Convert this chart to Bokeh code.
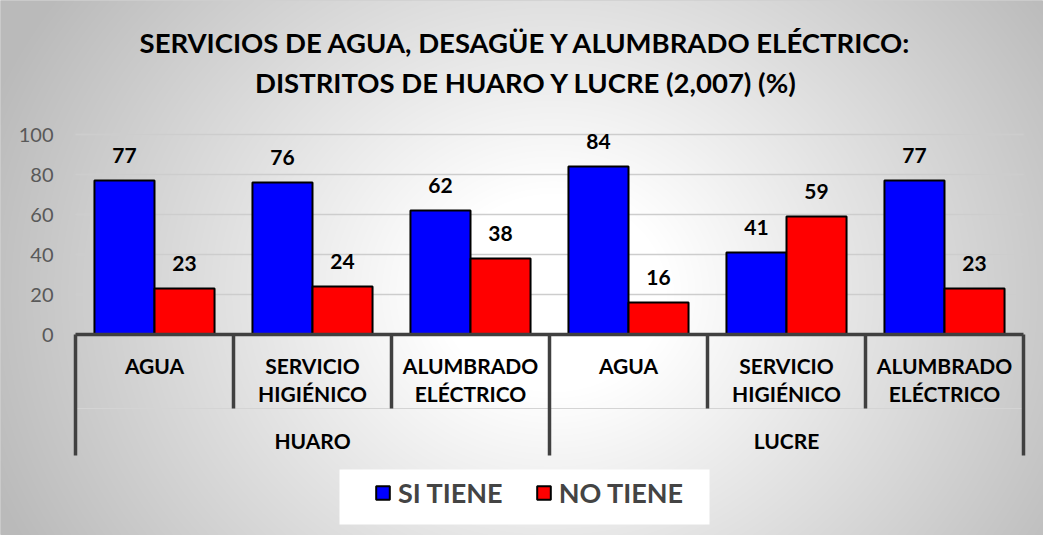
import numpy as np
from bokeh.plotting import figure
from bokeh.models import Range1d, LinearAxis, FixedTicker, Legend, LegendItem, BoxAnnotation
from bokeh.core.properties import value
from bokeh.embed import file_html
from bokeh.resources import INLINE

# ---------------- data ----------------
districts = ["HUARO", "LUCRE"]
services = ["AGUA", "SERVICIO HIGIÉNICO", "ALUMBRADO ELÉCTRICO"]
series_names = ["SI TIENE", "NO TIENE"]
si_tiene = [77, 76, 62, 84, 41, 77]
no_tiene = [23, 24, 38, 16, 59, 23]
y_ticks = [0, 20, 40, 60, 80, 100]
title_lines = ["SERVICIOS DE AGUA, DESAGÜE Y ALUMBRADO ELÉCTRICO:",
               "DISTRITOS DE HUARO Y LUCRE (2,007) (%)"]

# ---------------- layout / style ----------------
W, H = 1043, 535
cat_px = 158.0      # pixel width of one category
x0_px = 75.0        # canvas px of first category boundary
y0_px = 334.0       # canvas px (from top) of value 0
ppu = 2.0           # pixels per value unit
FONT = value("Lato")
AXIS_DARK = "#404040"
colors = ["#0000FF", "#FF0000"]

cats = [(d, s) for d in districts for s in services]
n = len(cats)
ns = len(services)
x_start = -x0_px / cat_px
x_end = (W - x0_px) / cat_px
y_end = y0_px / ppu
y_start = -(H - y0_px) / ppu


def ydata(px_from_top):
    return (y0_px - px_from_top) / ppu


def xdata(px_from_left):
    return (px_from_left - x0_px) / cat_px


p = figure(width=W, height=H, output_backend="svg", toolbar_location=None,
           x_range=Range1d(x_start, x_end), y_range=Range1d(y_start, y_end),
           x_axis_type=None, y_axis_type=None, min_border=0)
p.outline_line_color = "#d0d0d0"
p.background_fill_color = "#ffffff"
p.border_fill_color = "#ffffff"

# background radial gradient (style only)
xs_img = np.arange(W) + 8.0
ys_img = 8.0 + (H - 1 - np.arange(H))
X, Y = np.meshgrid(xs_img, ys_img)
d = np.sqrt(((X - 560.0) / 520.0) ** 2 + ((Y - 300.0) / 453.0) ** 2)
t = np.clip((d - 0.22) / 0.85, 0, 1.1)
g = (255 - 62 * t).astype(np.uint8)
img = np.empty((H, W), dtype=np.uint32)
view = img.view(dtype=np.uint8).reshape((H, W, 4))
view[..., 0] = g
view[..., 1] = g
view[..., 2] = g
view[..., 3] = 255
p.image_rgba(image=[img], x=x_start, y=y_start, dw=x_end - x_start, dh=y_end - y_start, level="image")

# gridlines
grid_vals = [v for v in y_ticks if v > 0]
p.segment(x0=[0] * len(grid_vals), x1=[n] * len(grid_vals), y0=grid_vals, y1=grid_vals,
          line_color="#cdcdcd", line_width=1.5)

# y axis (fixed at category start)
yaxis = LinearAxis(fixed_location=0, ticker=FixedTicker(ticks=y_ticks))
yaxis.axis_line_color = None
yaxis.major_tick_line_color = None
yaxis.minor_tick_line_color = None
yaxis.major_label_standoff = 16
yaxis.major_label_text_font = "Lato"
yaxis.major_label_text_font_size = "20px"
yaxis.major_label_text_color = "#595959"
p.add_layout(yaxis, "left")

# bars
centers = [i + 0.5 for i in range(n)]
bw = 0.38
x_si = [c - bw / 2 for c in centers]
x_no = [c + bw / 2 for c in centers]
r_si = p.vbar(x=x_si, top=si_tiene, width=bw, bottom=0, fill_color=colors[0],
              line_color="black", line_width=2)
r_no = p.vbar(x=x_no, top=no_tiene, width=bw, bottom=0, fill_color=colors[1],
              line_color="black", line_width=2)

# value labels
for xs, vals in ((x_si, si_tiene), (x_no, no_tiene)):
    p.text(x=xs, y=vals, text=[str(v) for v in vals], text_align="center",
           text_baseline="alphabetic", y_offset=-25, text_font=FONT,
           text_font_style="bold", text_font_size="21px", text_color="black")

# category axis lines
bounds = list(range(n + 1))
lower = [ydata(455) if b % ns == 0 else ydata(408) for b in bounds]
p.segment(x0=[0], x1=[n], y0=[ydata(408)], y1=[ydata(408)], line_color="#d4d4d4", line_width=1)
p.segment(x0=bounds, x1=bounds, y0=[0] * len(bounds), y1=lower,
          line_color=AXIS_DARK, line_width=3.5)
p.segment(x0=[0], x1=[n], y0=[0], y1=[0], line_color=AXIS_DARK, line_width=3.5)

# category labels
line1 = [s.split(" ", 1)[0] for _, s in cats]
line2 = [s.split(" ", 1)[1] if " " in s else "" for _, s in cats]
p.text(x=centers, y=[ydata(365)] * n, text=line1, text_align="center", text_baseline="middle",
       text_font=FONT, text_font_style="bold", text_font_size="21px", text_color="black")
p.text(x=centers, y=[ydata(393)] * n, text=line2, text_align="center", text_baseline="middle",
       text_font=FONT, text_font_style="bold", text_font_size="21px", text_color="black")

# district labels
d_centers = [ns * k + ns / 2 for k in range(len(districts))]
p.text(x=d_centers, y=[ydata(440)] * len(districts), text=districts, text_align="center",
       text_baseline="middle", text_font=FONT, text_font_style="bold", text_font_size="21px",
       text_color="black")

# title
xmid = xdata(526)
p.text(x=[xmid, xmid], y=[ydata(42), ydata(82)], text=title_lines, text_align="center",
       text_baseline="middle", text_font=FONT, text_font_style="bold", text_font_size="27.5px",
       text_color="black")

# legend box + legend
p.add_layout(BoxAnnotation(left=xdata(339), right=xdata(709), top=ydata(469), bottom=ydata(524),
                           fill_color="white", fill_alpha=1.0, line_color=None))
legend = Legend(items=[LegendItem(label=series_names[0], renderers=[r_si]),
                       LegendItem(label=series_names[1], renderers=[r_no])],
                location=(374, 26), orientation="horizontal")
legend.background_fill_alpha = 0.0
legend.border_line_color = None
legend.label_text_font = "Lato"
legend.label_text_font_style = "bold"
legend.label_text_font_size = "27px"
legend.glyph_width = 17
legend.glyph_height = 17
legend.label_height = 23
legend.label_standoff = 7
legend.spacing = 32
legend.padding = 0
legend.margin = 0
p.add_layout(legend, "center")

open("out.html", "w").write(file_html(p, INLINE))
